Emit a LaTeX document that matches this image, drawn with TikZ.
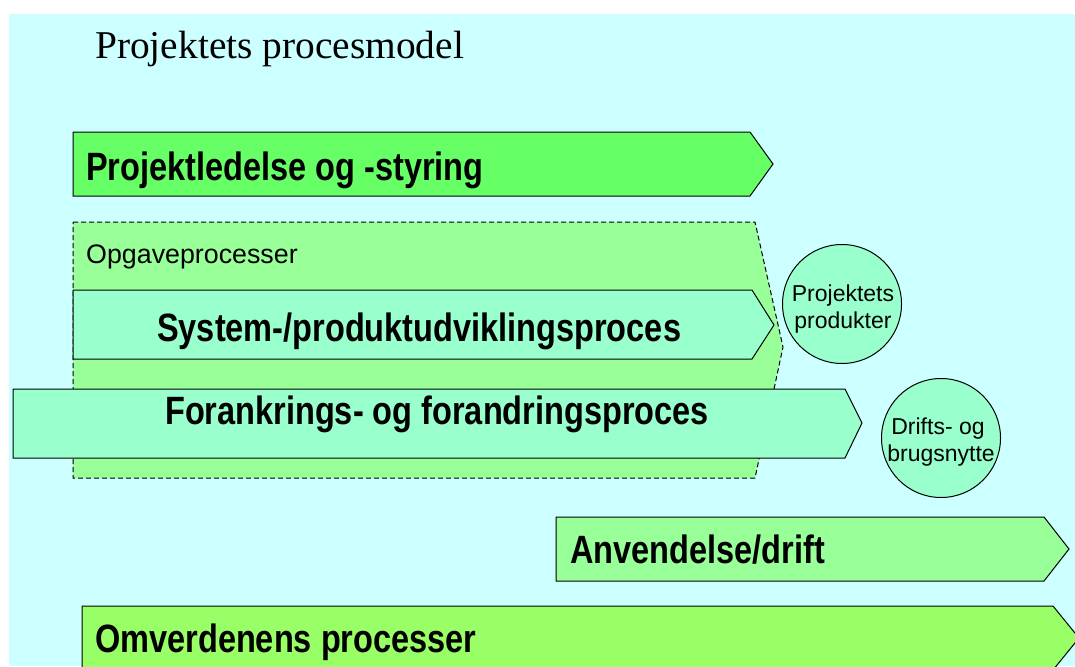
\documentclass[tikz,border=0pt]{standalone}
\usepackage{fontspec}
\setmainfont{Liberation Serif}
\newfontfamily\lblfont[FakeStretch=0.823]{Liberation Sans}
\newfontfamily\plainfont{Liberation Sans}
\definecolor{bgcyan}{HTML}{CCFFFF}
\definecolor{greenA}{HTML}{66FF66}
\definecolor{greenB}{HTML}{99FF99}
\definecolor{mint}{HTML}{99FFCC}
\definecolor{greenC}{HTML}{99FF66}
\tikzset{
  x=1pt, y=-1pt,
  proc/.style={draw=black, line width=1pt, line join=miter},
  bigtxt/.style={anchor=base west, inner sep=0pt, font=\lblfont\bfseries\fontsize{39.5}{45}\selectfont},
  smalltxt/.style={anchor=base, inner sep=0pt, font=\plainfont\fontsize{23}{27}\selectfont},
  ball/.style={circle, draw=black, line width=1pt, fill=mint, minimum size=119pt, inner sep=0pt},
}
\begin{document}
\begin{tikzpicture}
\useasboundingbox (0,0) rectangle (1075,666);
\fill[white] (0,0) rectangle (1075,666);
\fill[bgcyan] (9,14) rectangle (1075,666);
\begin{scope}
\clip (0,0) rectangle (1075,666);
% Projektledelse og -styring
\path[proc, fill=greenA] (73,132) -- (750,132) -- (773,164) -- (750,196) -- (73,196) -- cycle;
\node[bigtxt] (pl) at (86,180) {Projektledelse og -styring};
% Opgaveprocesser container
\path[draw=black, line width=1pt, dash pattern=on 5pt off 3pt, fill=greenB] (73,222) -- (755,222) -- (783,347) -- (755,478) -- (73,478) -- cycle;
\node[anchor=base west, inner sep=0pt, font=\plainfont\fontsize{26.8}{32}\selectfont] (op) at (86,263) {Opgaveprocesser};
% System-/produktudviklingsproces
\path[proc, fill=mint] (73,290) -- (752,290) -- (774,325) -- (752,359) -- (73,359) -- cycle;
\node[bigtxt] (sys) at (157,341) {System-/produktudviklingsproces};
% Forankrings- og forandringsproces
\path[proc, fill=mint] (13,389) -- (845,389) -- (862,423) -- (845,458) -- (13,458) -- cycle;
\node[bigtxt] (for) at (165,424) {Forankrings- og forandringsproces};
% circles
\node[ball] (prod) at (842,304) {};
\node[smalltxt] (prodA) at (843,301) {Projektets};
\node[smalltxt] (prodB) at (843,328) {produkter};
\node[ball] (nytte) at (941,438) {};
\node[smalltxt] (nytA) at (938,434) {Drifts- og};
\node[smalltxt] (nytB) at (941,461) {brugsnytte};
% Anvendelse/drift
\path[proc, fill=greenB] (556,517) -- (1044,517) -- (1069,549) -- (1044,581) -- (556,581) -- cycle;
\node[bigtxt] (anv) at (570,563) {Anvendelse/drift};
% Omverdenens processer
\path[proc, fill=greenC] (82,606) -- (1053,606) -- (1079,638) -- (1053,670) -- (82,670) -- cycle;
\node[bigtxt] (omv) at (95,652) {Omverdenens processer};
\end{scope}
% title
\node[anchor=base west, inner sep=0pt, font=\fontsize{39.4}{46}\selectfont] (title) at (95,59) {Projektets procesmodel};
\end{tikzpicture}
\end{document}
